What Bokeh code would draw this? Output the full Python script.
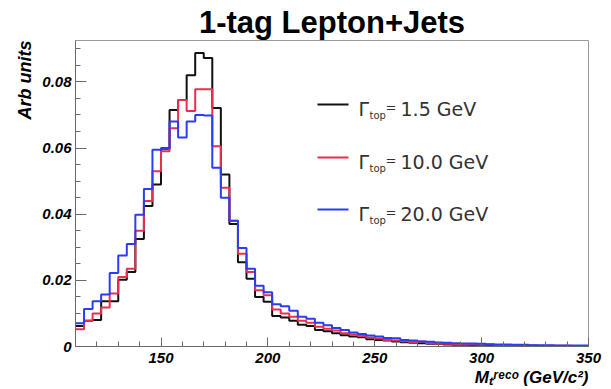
from bokeh.plotting import figure
from bokeh.models import Label, Arrow, FixedTicker, Title
from bokeh.embed import file_html
from bokeh.resources import INLINE

# ---------------- data ----------------
bin_edges = [110 + 4 * i for i in range(61)]  # 4 GeV bins, 110..350

width_1p5 = [
    0.0062, 0.0078, 0.0080, 0.0137, 0.0137, 0.0202, 0.0225, 0.0325, 0.0425, 0.0490,
    0.0598, 0.0715, 0.0745, 0.0820, 0.0887, 0.0872, 0.0721, 0.0520, 0.0370, 0.0255,
    0.0205, 0.0150, 0.0135, 0.0092, 0.0088, 0.0078, 0.0066, 0.0062, 0.0050, 0.0046,
    0.0040, 0.0034, 0.0030, 0.0028, 0.0022, 0.0020, 0.0018, 0.0015, 0.0013, 0.0011,
    0.0010, 0.0008, 0.0008, 0.0006, 0.0005, 0.0005, 0.0004, 0.0004, 0.0003, 0.0003,
    0.0003, 0.0002, 0.0002, 0.0002, 0.0001, 0.0001, 0.0001, 0.0001, 0.0001, 0.0001,
]
width_10 = [
    0.0052, 0.0078, 0.0100, 0.0118, 0.0160, 0.0210, 0.0235, 0.0350, 0.0440, 0.0530,
    0.0590, 0.0660, 0.0745, 0.0712, 0.0778, 0.0778, 0.0605, 0.0480, 0.0380, 0.0280,
    0.0225, 0.0170, 0.0155, 0.0112, 0.0100, 0.0090, 0.0078, 0.0072, 0.0060, 0.0054,
    0.0048, 0.0040, 0.0036, 0.0032, 0.0027, 0.0024, 0.0020, 0.0018, 0.0016, 0.0013,
    0.0015, 0.0010, 0.0009, 0.0008, 0.0007, 0.0007, 0.0006, 0.0005, 0.0006, 0.0004,
    0.0004, 0.0003, 0.0003, 0.0003, 0.0002, 0.0002, 0.0002, 0.0002, 0.0001, 0.0001,
]
width_20 = [
    0.0070, 0.0113, 0.0137, 0.0157, 0.0222, 0.0275, 0.0310, 0.0398, 0.0476, 0.0595,
    0.0600, 0.0680, 0.0632, 0.0680, 0.0700, 0.0698, 0.0540, 0.0450, 0.0380, 0.0298,
    0.0235, 0.0184, 0.0164, 0.0128, 0.0122, 0.0108, 0.0090, 0.0084, 0.0072, 0.0064,
    0.0056, 0.0050, 0.0042, 0.0038, 0.0033, 0.0030, 0.0026, 0.0025, 0.0020, 0.0018,
    0.0015, 0.0014, 0.0012, 0.0011, 0.0010, 0.0009, 0.0009, 0.0008, 0.0007, 0.0006,
    0.0006, 0.0005, 0.0005, 0.0004, 0.0004, 0.0004, 0.0003, 0.0003, 0.0003, 0.0003,
]

series_names = ["1.5 GeV", "10.0 GeV", "20.0 GeV"]
series_values = [width_1p5, width_10, width_20]
series_colors = ["#111111", "#e8304e", "#2b3cf2"]

x_ticks = [150, 200, 250, 300, 350]
y_ticks = [0, 0.02, 0.04, 0.06, 0.08]
y_tick_labels = ["0", "0.02", "0.04", "0.06", "0.08"]

# ---------------- figure ----------------
W, H = 611, 389
FL, FR, FT, FB = 75, 588, 40, 346   # frame edges in canvas px
FONT = "Liberation Sans"
LEG_FONT = "DejaVu Sans"

p = figure(width=W, height=H, x_range=(110, 350), y_range=(0, 0.0925),
           output_backend="svg", toolbar_location=None,
           min_border_left=FL, min_border_right=W - FR,
           min_border_top=FT, min_border_bottom=H - FB,
           background_fill_color="white", border_fill_color="white")
p.grid.visible = False
p.outline_line_color = "#9a9a9a"
p.outline_line_width = 1

p.title.text = "1-tag Lepton+Jets"
p.title.align = "center"
p.title.text_font = FONT
p.title.text_font_size = "31px"
p.title.text_font_style = "bold"
p.title.text_color = "black"
p.title.standoff = 1
p.title.offset = 2

xa = p.xaxis[0]
xa.ticker = FixedTicker(ticks=x_ticks, minor_ticks=list(range(110, 351, 10)))
ya = p.yaxis[0]
ya.ticker = FixedTicker(ticks=y_ticks, minor_ticks=[i * 0.005 for i in range(19)])
ya.major_label_overrides = {t: s for t, s in zip(y_ticks, y_tick_labels)}
for ax, tin in ((xa, 9), (ya, 11)):
    ax.axis_line_color = "#6a6a6a"
    ax.major_tick_line_color = "#6a6a6a"
    ax.minor_tick_line_color = "#6a6a6a"
    ax.major_tick_in = tin
    ax.major_tick_out = 0
    ax.minor_tick_in = 5
    ax.minor_tick_out = 0
    ax.major_label_text_font = FONT
    ax.major_label_text_font_style = "bold italic"
    ax.major_label_text_font_size = "15px"
    ax.major_label_text_color = "black"
xa.major_label_standoff = 6
ya.major_label_standoff = 4

# axis titles, placed at the ends of the axes as in the original
p.add_layout(Title(text="Arb units", align="right", text_font=FONT,
                   text_font_size="18px", text_font_style="bold italic",
                   text_color="black", standoff=9), "left")
p.add_layout(Title(text="M\u209c\u02b3\u1d49\u1d9c\u1d52 (GeV/c\u00b2)", align="right",
                   text_font=FONT, text_font_size="17px", text_color="black",
                   text_font_style="bold italic", standoff=0), "below")

for vals, col in zip(series_values, series_colors):
    p.step(x=bin_edges, y=vals + [vals[-1]], mode="after",
           line_color=col, line_width=2)


def fx(cx):
    return cx - FL


def fy(cy):
    return FB - cy


def lab(text, cx, cy, size, font=LEG_FONT, style="normal", align="left",
        baseline="alphabetic", color="#333333"):
    p.add_layout(Label(x=fx(cx), y=fy(cy), x_units="screen", y_units="screen",
                       text=text, text_font=font, text_font_size=f"{size}px",
                       text_font_style=style, text_align=align,
                       text_baseline=baseline, text_color=color))


# legend
leg_line_y = [104, 157, 209]
for name, col, ly in zip(series_names, series_colors, leg_line_y):
    p.add_layout(Arrow(start=None, end=None, x_start=fx(317), y_start=fy(ly),
                       x_end=fx(348), y_end=fy(ly), start_units="screen",
                       end_units="screen", line_color=col, line_width=2))
    lab("\u0393", 358, ly + 4, 19)
    lab("top", 369, ly + 11, 10)
    lab("=", 385, ly + 3, 13)
    lab(name, 400, ly + 4, 19)

open("out.html", "w").write(file_html(p, INLINE))
